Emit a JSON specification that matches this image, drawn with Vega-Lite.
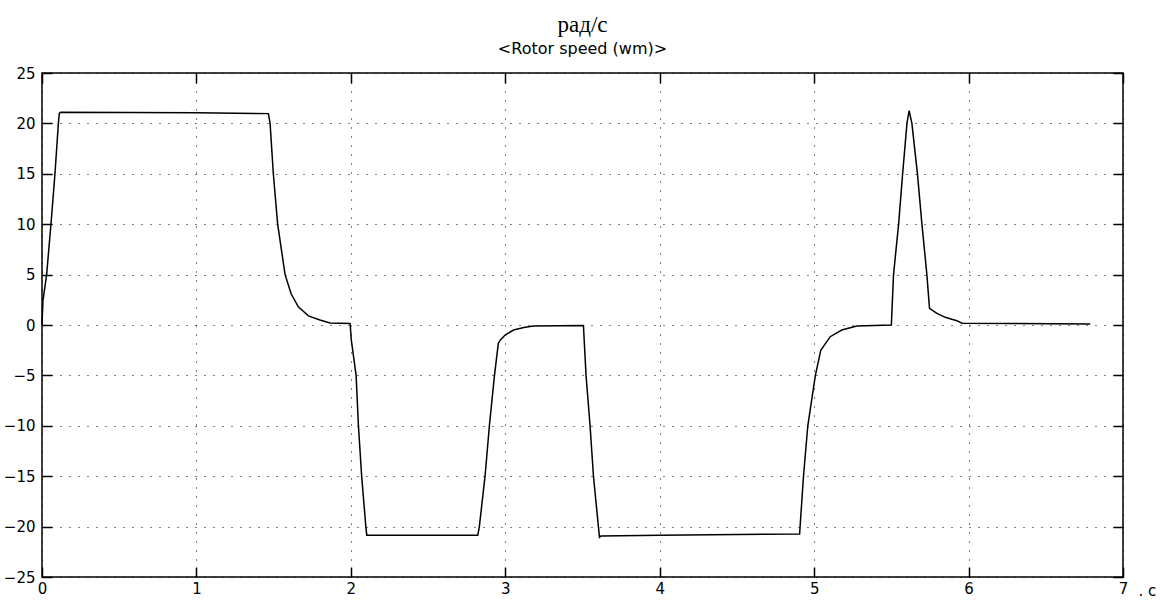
{
  "$schema": "https://vega.github.io/schema/vega-lite/v6.json",
  "width": 1081,
  "height": 504,
  "autosize": {"type": "none"},
  "padding": {"left": 42, "top": 73, "right": 44, "bottom": 24},
  "background": "white",
  "config": {
    "view": {"stroke": "black", "strokeWidth": 1.5},
    "axis": {
      "domain": false,
      "tickColor": "black",
      "tickWidth": 1.5,
      "labelColor": "black",
      "labelFont": "DejaVu Sans",
      "labelFontSize": 15,
      "gridColor": "black",
      "gridDash": [1, 8],
      "gridOpacity": 1,
      "gridWidth": 1,
      "labelOverlap": false,
      "labelBound": false,
      "labelFlush": false,
      "title": null
    }
  },
  "title": {
    "text": "рад/с",
    "subtitle": "<Rotor speed (wm)>",
    "font": "Liberation Serif",
    "fontSize": 23,
    "fontWeight": "normal",
    "color": "black",
    "subtitleFont": "DejaVu Sans",
    "subtitleFontSize": 16,
    "subtitleColor": "black",
    "subtitlePadding": 4,
    "anchor": "middle",
    "frame": "group",
    "offset": 9
  },
  "data": {
    "values": [
      {"t": 0, "v": 0},
      {"t": 0.006, "v": 2.4},
      {"t": 0.030, "v": 5},
      {"t": 0.058, "v": 10},
      {"t": 0.084, "v": 15},
      {"t": 0.106, "v": 20},
      {"t": 0.112, "v": 21.0},
      {"t": 0.12, "v": 21.1},
      {"t": 1.0, "v": 21.05},
      {"t": 1.466, "v": 20.97},
      {"t": 1.477, "v": 20},
      {"t": 1.498, "v": 15},
      {"t": 1.526, "v": 10},
      {"t": 1.574, "v": 5},
      {"t": 1.613, "v": 3.1},
      {"t": 1.66, "v": 1.8},
      {"t": 1.725, "v": 0.9},
      {"t": 1.80, "v": 0.5},
      {"t": 1.865, "v": 0.2},
      {"t": 1.995, "v": 0.15},
      {"t": 2.003, "v": -1.5},
      {"t": 2.034, "v": -5},
      {"t": 2.049, "v": -10},
      {"t": 2.07, "v": -15},
      {"t": 2.097, "v": -20},
      {"t": 2.103, "v": -20.85},
      {"t": 2.822, "v": -20.85},
      {"t": 2.832, "v": -20},
      {"t": 2.869, "v": -15},
      {"t": 2.897, "v": -10},
      {"t": 2.93, "v": -5},
      {"t": 2.955, "v": -1.8},
      {"t": 2.97, "v": -1.45},
      {"t": 2.999, "v": -1.0},
      {"t": 3.053, "v": -0.5},
      {"t": 3.12, "v": -0.25},
      {"t": 3.182, "v": -0.1},
      {"t": 3.506, "v": -0.05},
      {"t": 3.523, "v": -5},
      {"t": 3.549, "v": -10},
      {"t": 3.571, "v": -15},
      {"t": 3.603, "v": -20},
      {"t": 3.61, "v": -21.06},
      {"t": 3.62, "v": -20.93},
      {"t": 4.0, "v": -20.85},
      {"t": 4.906, "v": -20.73},
      {"t": 4.909, "v": -20},
      {"t": 4.931, "v": -15},
      {"t": 4.959, "v": -10},
      {"t": 5.008, "v": -5},
      {"t": 5.043, "v": -2.5},
      {"t": 5.104, "v": -1.16},
      {"t": 5.179, "v": -0.5},
      {"t": 5.276, "v": -0.1},
      {"t": 5.50, "v": 0},
      {"t": 5.514, "v": 5},
      {"t": 5.547, "v": 10},
      {"t": 5.573, "v": 15},
      {"t": 5.601, "v": 20},
      {"t": 5.615, "v": 21.26},
      {"t": 5.633, "v": 20},
      {"t": 5.669, "v": 15},
      {"t": 5.698, "v": 10},
      {"t": 5.73, "v": 5},
      {"t": 5.747, "v": 1.65},
      {"t": 5.795, "v": 1.16},
      {"t": 5.849, "v": 0.76},
      {"t": 5.924, "v": 0.43},
      {"t": 5.957, "v": 0.17},
      {"t": 6.788, "v": 0.1}
    ]
  },
  "layer": [
    {
      "mark": {"type": "line", "color": "black", "strokeWidth": 1.5, "interpolate": "linear"},
      "encoding": {
        "x": {
          "field": "t", "type": "quantitative",
          "scale": {"domain": [0, 7], "nice": false, "zero": false},
          "axis": {
            "orient": "bottom",
            "values": [0, 1, 2, 3, 4, 5, 6, 7],
            "format": "d",
            "grid": true,
            "tickSize": 0,
            "labelPadding": 4,
            "title": ". c",
            "titleFont": "DejaVu Sans",
            "titleFontSize": 15,
            "titleFontWeight": "normal",
            "titleColor": "black",
            "titleX": 1096,
            "titleY": 6,
            "titleAlign": "left",
            "titleBaseline": "top",
            "titleAnchor": null
          }
        },
        "y": {
          "field": "v", "type": "quantitative",
          "scale": {"domain": [-25, 25], "nice": false, "zero": false},
          "axis": {
            "orient": "left",
            "values": [-25, -20, -15, -10, -5, 0, 5, 10, 15, 20, 25],
            "format": "d",
            "grid": true,
            "tickSize": 0,
            "labelPadding": 7
          }
        }
      }
    },
    {
      "mark": {"type": "line", "opacity": 0},
      "encoding": {
        "x": {
          "field": "t", "type": "quantitative",
          "scale": {"domain": [0, 7], "nice": false, "zero": false},
          "axis": {"orient": "top", "offset": -10, "tickSize": 10, "values": [0, 1, 2, 3, 4, 5, 6, 7], "labels": false, "grid": false}
        },
        "y": {
          "field": "v", "type": "quantitative",
          "scale": {"domain": [-25, 25], "nice": false, "zero": false},
          "axis": {"orient": "right", "offset": -10, "tickSize": 10, "values": [-25, -20, -15, -10, -5, 0, 5, 10, 15, 20, 25], "labels": false, "grid": false}
        }
      }
    },
    {
      "mark": {"type": "line", "opacity": 0},
      "encoding": {
        "x": {
          "field": "t", "type": "quantitative",
          "scale": {"domain": [0, 7], "nice": false, "zero": false},
          "axis": {"orient": "bottom", "offset": -10, "tickSize": 10, "values": [0, 1, 2, 3, 4, 5, 6, 7], "labels": false, "grid": false}
        },
        "y": {
          "field": "v", "type": "quantitative",
          "scale": {"domain": [-25, 25], "nice": false, "zero": false},
          "axis": {"orient": "left", "offset": -10, "tickSize": 10, "values": [-25, -20, -15, -10, -5, 0, 5, 10, 15, 20, 25], "labels": false, "grid": false}
        }
      }
    }
  ],
  "resolve": {"axis": {"x": "independent", "y": "independent"}}
}
